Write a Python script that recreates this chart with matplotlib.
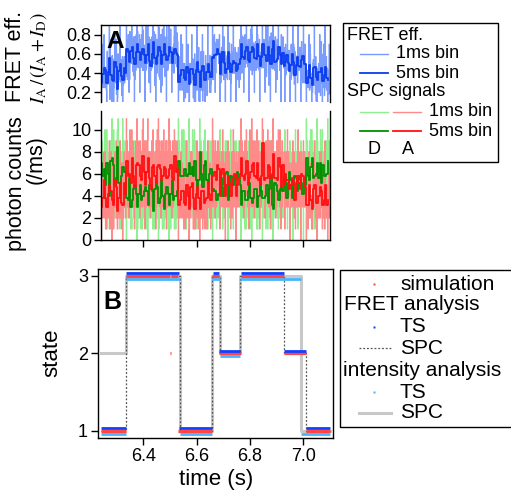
import numpy as np
import matplotlib

matplotlib.use("Agg")
import matplotlib.pyplot as plt
from matplotlib.lines import Line2D
from matplotlib.patches import Rectangle

plt.rcParams["font.family"] = ["Liberation Sans", "DejaVu Sans"]
plt.rcParams["mathtext.fontset"] = "stix"

# ---------------------------------------------------------------------------
# data: 1 ms photon counts (hex digits, a=10, b=11), one string per state segment
T0 = 6.241  # s, time of first 1 ms bin

DONOR_1MS = [
    "5b69483657 6286a57364 7a93685746 4167295868 6b58746a95 7262857394 8a67b46385 5194736857 3b68594675 6849",
    "4053746324 3848264135 2163537452 5942648315 4071524636 2846341725 3145283464 5937416354 4063527348 3824654273 "
    "6142153846 2975336428 4051743625 3824581347 5136227453 2915364742 4063524185 3847263436 2134751348 42536",
    "6b57493768 5264a73586 7a86359674 6178946385 8b95374867 5276a85639 6a48596374 7153686485 4b87593768 6284739567 "
    "7a95486358 5167394685 76495867",
    "4052638423 5846241534 36254732",
    "5a63758465 3157482563 6948374956 4036582645 5a47365374 6159485637 4965384658 375946385",
    "3052637425 4835241735 2143648324 5962453174 4028345263 3846237452 5131645328 2945373546 4052846235 3824517364 "
    "5143638452 4956274135 3042536846 2863448235 4135274536 5924637425 4635",
    "4a57385364 5148365475 6954837456 4065374563 5a76384657 3158475364 5946385647 4063748356 5",
    "6b58496375 8267394a68 5a96483675 7168593687 6b59374685 5286a96374 6a58473685 7186593768 6b74869357",
]

ACCEPTOR_1MS = [
    "3024637243 4852846153 2145372435 5941625384 3073524136 4835743926 3114463253 6942537412 4073264835 3426",
    "6b59473685 7264a86375 5a84695837 6157386948 7b65948576 8296573685 5a38b64957 6157395476 9b68573648 7263849765 "
    "6a48576375 8176394a68 5b67469385 7285936746 6a38574869 5196483657 8b65739685 6258496374 7a86958647 69587",
    "3025364253 4853427346 2146335142 4962534724 3015263853 5843746135 4162415374 2934264813 3052435247 4816253425 "
    "3147246315 4935364527 34152634",
    "6b57396485 7294583768 59684758",
    "4175365847 5a36847365 4058364573 6937485364 4153748256 5a46385467 3058476354 648375946",
    "6b58496375 8267394685 7a94857364 5176a49673 6b85739586 7269486374 8a74595736 6158473685 7b86a95647 5238694576 "
    "6a57483967 8175969384 6b97485736 7286394657 5a69483a68 6185739675 7568",
    "5164758463 4a57384756 5036475364 6953748265 4157365473 5a48374658 4065847563 6947385746 4",
    "3025364152 4852736424 2134153745 4953624316 3047243625 4836254834 3124637241 4962534253 2053642735",
]

# panel B: (start s, end s, state)
SIMULATION = [(6.241, 6.335, 1), (6.335, 6.500, 3), (6.500, 6.504, 2), (6.504, 6.529, 3),
              (6.529, 6.658, 1), (6.658, 6.685, 3), (6.685, 6.765, 2), (6.765, 6.929, 3),
              (6.929, 7.010, 2), (7.010, 7.100, 1)]
FRET_TS = [(6.241, 6.335, 1), (6.335, 6.534, 3), (6.534, 6.658, 1), (6.660, 6.685, 3),
           (6.685, 6.763, 2), (6.765, 6.929, 3), (6.929, 7.009, 2), (7.010, 7.100, 1)]
INTENSITY_TS = [(6.241, 6.335, 1), (6.335, 6.537, 3), (6.537, 6.658, 1), (6.658, 6.688, 3),
                (6.688, 6.763, 2), (6.763, 6.991, 3), (6.991, 7.100, 1)]
FRET_SPC_T = [6.241, 6.335, 6.537, 6.657, 6.687, 6.763, 6.929, 7.010, 7.100]
FRET_SPC_S = [1, 3, 1, 3, 2, 3, 2, 1, 1]
INT_SPC_T = [6.241, 6.335, 6.537, 6.658, 6.688, 6.763, 6.991, 7.100]
INT_SPC_S = [2, 3, 1, 3, 2, 3, 1, 1]

XTICKS = [6.4, 6.6, 6.8, 7.0]

# ---------------------------------------------------------------------------
def decode(s):
    return [int(c, 16) for c in s.replace(" ", "")]


donor, acceptor = [], []
for ds, as_ in zip(DONOR_1MS, ACCEPTOR_1MS):
    d, a = decode(ds), decode(as_)
    k = min(len(d), len(a))
    donor += d[:k]
    acceptor += a[:k]
donor = np.array(donor, dtype=float)
acceptor = np.array(acceptor, dtype=float)
n = len(donor)
t1 = T0 + np.arange(n) * 0.001

tot = donor + acceptor
fret1 = np.where(tot > 0, acceptor / np.where(tot > 0, tot, 1), np.nan)

m = n // 5
d5 = donor[:m * 5].reshape(m, 5).sum(1)
a5 = acceptor[:m * 5].reshape(m, 5).sum(1)
t5 = T0 + np.arange(m) * 0.005
fret5 = a5 / (a5 + d5)

W, H = 511, 493
fig = plt.figure(figsize=(W / 100, H / 100), dpi=100)


def rect(l, r, t, b):
    return [l / W, 1 - b / H, (r - l) / W, (b - t) / H]


def fx(x):
    return x / W


def fy(y):
    return 1 - y / H


TICK = 13
LAB = 15.5

ax_f = fig.add_axes(rect(101, 330, 25, 102))
ax_c = fig.add_axes(rect(101, 330, 111, 240))
ax_b = fig.add_axes(rect(97.7, 333.3, 269, 438.3))

for ax in (ax_f, ax_c, ax_b):
    ax.tick_params(direction="out", length=5, width=1, labelsize=TICK, pad=2,
                   top=False, right=False)
    for sp in ax.spines.values():
        sp.set_linewidth(1)

# --- FRET efficiency
ax_f.plot(t1, fret1, color="#7a9cff", lw=0.9, drawstyle="steps-post")
ax_f.plot(t5, fret5, color="#0a3cf0", lw=1.3, drawstyle="steps-post")
ax_f.set_xlim(6.241, 7.1)
ax_f.set_ylim(0.1, 0.9)
ax_f.set_yticks([0.2, 0.4, 0.6, 0.8])
ax_f.set_yticklabels(["0.2", "0.4", "0.6", "0.8"])
ax_f.spines["bottom"].set_visible(False)
ax_f.tick_params(bottom=False, labelbottom=False)
ax_f.text(0.025, 0.93, "A", transform=ax_f.transAxes, fontsize=17.5, fontweight="bold",
          va="top", ha="left")

# --- photon counts
ax_c.plot(t1, donor, color="#8ff08f", lw=0.9, drawstyle="steps-post")
ax_c.plot(t1, acceptor, color="#ff8a8a", lw=0.9, drawstyle="steps-post")
ax_c.plot(t5, d5 / 5, color="#009000", lw=1.3, drawstyle="steps-post")
ax_c.plot(t5, a5 / 5, color="#ff1010", lw=1.3, drawstyle="steps-post")
ax_c.set_xlim(6.241, 7.1)
ax_c.set_ylim(0, 11.7)
ax_c.set_yticks(range(0, 11, 2))
ax_c.set_xticks(XTICKS)
ax_c.tick_params(labelbottom=False)
ax_c.spines["top"].set_visible(False)

# --- state trajectories
ax_b.plot(INT_SPC_T, INT_SPC_S, color="#c8c8c8", lw=2.2, drawstyle="steps-post", zorder=1)
ax_b.plot(FRET_SPC_T, FRET_SPC_S, color="#555555", lw=0.9, ls=(0, (1.5, 1.5)),
          drawstyle="steps-post", zorder=2)
for segs, off, col, lw, z in ((INTENSITY_TS, -0.04, "#45b5ff", 2.0, 3),
                              (SIMULATION, 0.0, "#ff4545", 2.3, 4),
                              (FRET_TS, 0.035, "#1040ff", 2.0, 5)):
    ax_b.hlines([s + off for _, _, s in segs], [a for a, _, _ in segs], [b for _, b, _ in segs],
                colors=col, lw=lw, zorder=z)
ax_b.set_xlim(6.229, 7.1125)
ax_b.set_ylim(0.906, 3.086)
ax_b.set_yticks([1, 2, 3])
ax_b.set_xticks(XTICKS)
ax_b.set_xticklabels(["6.4", "6.6", "6.8", "7.0"])
ax_b.text(0.022, 0.875, "B", transform=ax_b.transAxes, fontsize=18, fontweight="bold",
          va="top", ha="left")

# --- axis labels
fig.text(fx(16), fy(56), "FRET eff.", rotation=90, fontsize=LAB, ha="center", va="center")
fig.text(fx(38.5), fy(58), r"$I_\mathrm{A}\,/\,(I_\mathrm{A}+I_\mathrm{D})$", rotation=90,
         fontsize=13.5, ha="center", va="center")
fig.text(fx(17), fy(184), "photon counts", rotation=90, fontsize=LAB, ha="center", va="center")
fig.text(fx(36.5), fy(160), "(/ms)", rotation=90, fontsize=LAB, ha="center", va="center")
fig.text(fx(52), fy(353), "state", rotation=90, fontsize=16, ha="center", va="center")
fig.text(fx(216), fy(480), "time (s)", fontsize=16, ha="center", va="center")

# --- legend A
fig.add_artist(Rectangle((fx(343), fy(162)), fx(498) - fx(343), fy(23) - fy(162),
                         transform=fig.transFigure, fill=False, ec="black", lw=1))


def hline(x0, x1, y, **kw):
    fig.add_artist(Line2D([fx(x0), fx(x1)], [fy(y), fy(y)], transform=fig.transFigure, **kw))


def label(x, y, s, ha="left", size=13):
    fig.text(fx(x), fy(y), s, fontsize=size, ha=ha, va="center")


label(347, 35, "FRET eff.")
hline(360, 388, 54, color="#7a9cff", lw=1)
label(396, 54, "1ms bin")
hline(360, 388, 73, color="#0a3cf0", lw=1.3)
label(396, 73, "5ms bin")
label(347, 92, "SPC signals")
hline(360, 388, 112, color="#8ff08f", lw=1)
hline(393, 421, 112, color="#ff8a8a", lw=1)
label(429, 112, "1ms bin")
hline(360, 388, 131, color="#009000", lw=1.3)
hline(393, 421, 131, color="#ff1010", lw=1.3)
label(429, 131, "5ms bin")
label(374, 150, "D", ha="center")
label(407.5, 150, "A", ha="center")

# --- legend B
fig.add_artist(Rectangle((fx(340), fy(427)), fx(530) - fx(340), fy(270) - fy(427),
                         transform=fig.transFigure, fill=False, ec="black", lw=1, clip_on=False))


def dot(x, y, col):
    fig.add_artist(Line2D([fx(x)], [fy(y)], transform=fig.transFigure, marker="s", ms=2,
                          mec="none", mfc=col, ls="none"))


LB = 15
dot(374, 284, "#ff4545")
label(400, 284, "simulation", size=LB)
label(344, 305, "FRET analysis", size=LB)
dot(374, 327, "#1040ff")
label(400, 327, "TS", size=LB)
hline(359, 391, 348, color="#555555", lw=0.9, ls=(0, (1.5, 1.5)))
label(400, 348, "SPC", size=LB)
label(343, 370, "intensity analysis", size=LB)
dot(374, 392, "#45b5ff")
label(400, 392, "TS", size=LB)
hline(359, 391, 413, color="#c8c8c8", lw=2.2)
label(400, 413, "SPC", size=LB)

fig.savefig("out.png", dpi=100)
